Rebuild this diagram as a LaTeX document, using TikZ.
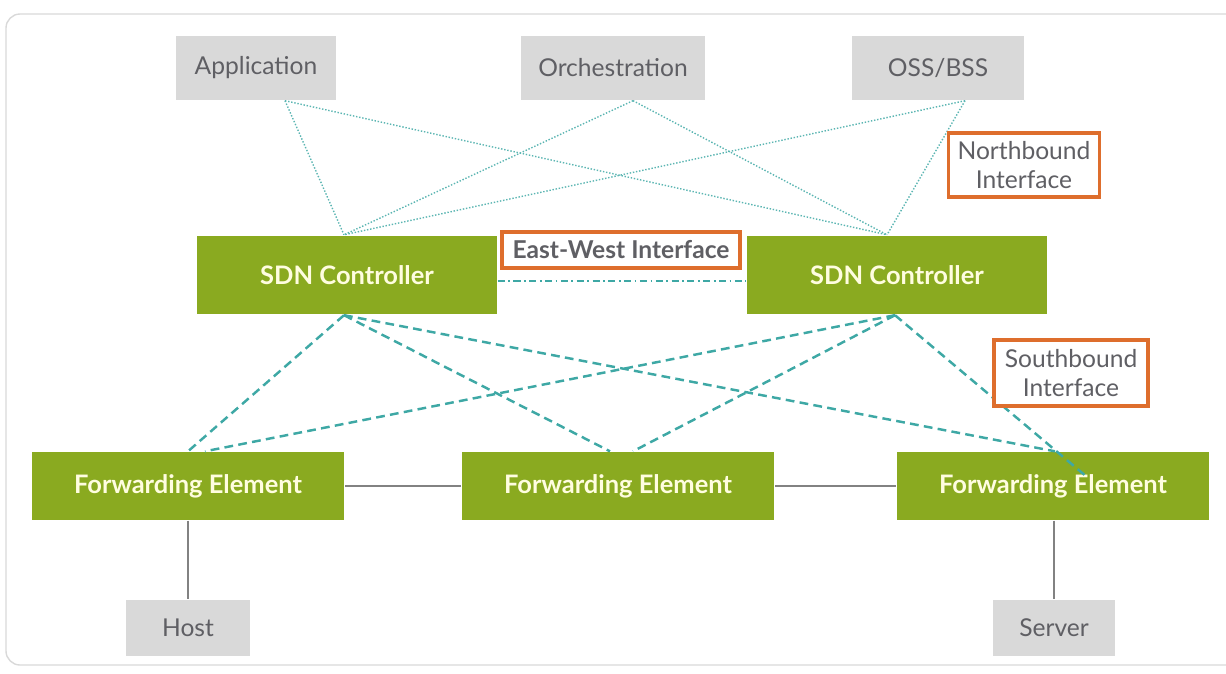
\documentclass[tikz,border=0pt]{standalone}
\usepackage{fontspec}
\setmainfont{Lato}
\usepackage[dvipsnames]{xcolor}
\definecolor{sdngreen}{RGB}{138,170,32}
\definecolor{boxgray}{RGB}{217,217,217}
\definecolor{textgray}{RGB}{95,95,100}
\definecolor{labelorange}{RGB}{222,110,45}
\definecolor{linkteal}{RGB}{62,168,165}
\definecolor{wiregray}{RGB}{130,130,130}

\begin{document}
\begin{tikzpicture}[x=0.02cm,y=-0.02cm,thick,
    app node/.style={rectangle,fill=boxgray,text=textgray,font=\fontsize{14}{16}\selectfont,inner sep=0pt},
    green node/.style={rectangle,fill=sdngreen,text=yellow!12,font=\bfseries\fontsize{14.5}{17}\selectfont,inner sep=0pt},
    iface node/.style={rectangle,draw=labelorange,line width=2pt,fill=white,text=textgray,font=\fontsize{14}{16.5}\selectfont,align=center,inner sep=0pt},
    north link/.style={linkteal!85,line width=0.8pt,densely dotted},
    south link/.style={linkteal,line width=1.4pt,dash pattern=on 5pt off 3pt},
    wire/.style={wiregray,line width=1pt}]

    \useasboundingbox (0,0) rectangle (1226,673);
    \draw[black!15,line width=0.8pt,rounded corners=8pt] (6,14) rectangle (1250,665);

    % top layer
    \node[app node,minimum width=3.2cm,minimum height=1.28cm] (app) at (256,68) {Application};
    \node[app node,minimum width=3.68cm,minimum height=1.28cm] (orch) at (613,68) {Orchestration};
    \node[app node,minimum width=3.44cm,minimum height=1.28cm] (oss) at (938,68) {OSS/BSS};

    % controllers
    \node[green node,minimum width=6cm,minimum height=1.58cm] (ctrl1) at (347,275) {SDN Controller};
    \node[green node,minimum width=6cm,minimum height=1.58cm] (ctrl2) at (897,275) {SDN Controller};

    % forwarding elements
    \node[green node,minimum width=6.26cm,minimum height=1.36cm] (fe1) at (188,486) {Forwarding Element};
    \node[green node,minimum width=6.26cm,minimum height=1.36cm] (fe2) at (618,486) {Forwarding Element};
    \node[green node,minimum width=6.26cm,minimum height=1.36cm] (fe3) at (1053,486) {Forwarding Element};

    % end hosts
    \node[app node,minimum width=2.48cm,minimum height=1.12cm] (host) at (188,628) {Host};
    \node[app node,minimum width=2.44cm,minimum height=1.12cm] (server) at (1054,628) {Server};

    % northbound links
    \draw[north link] ([xshift=0.58cm]app.south) -- ([xshift=-0.06cm]ctrl1.north);
    \draw[north link] ([xshift=0.58cm]app.south) -- ([xshift=-0.2cm]ctrl2.north);
    \draw[north link] ([xshift=0.4cm]orch.south) -- ([xshift=-0.06cm]ctrl1.north);
    \draw[north link] ([xshift=0.4cm]orch.south) -- ([xshift=-0.2cm]ctrl2.north);
    \draw[north link] ([xshift=0.54cm]oss.south) -- ([xshift=-0.06cm]ctrl1.north);
    \draw[north link] ([xshift=0.54cm]oss.south) -- ([xshift=-0.2cm]ctrl2.north);

    % east-west link
    \draw[linkteal,line width=1.2pt,dash pattern=on 4pt off 2pt on 1pt off 2pt] ([yshift=-0.12cm]ctrl1.east) -- ([yshift=-0.12cm]ctrl2.west);

    % southbound links
    \draw[south link] ([xshift=-0.06cm]ctrl1.south) -- (fe1.north);
    \draw[south link] ([xshift=-0.06cm]ctrl1.south) -- ([xshift=-0.16cm]fe2.north);
    \draw[south link] ([xshift=-0.06cm]ctrl1.south) -- ([xshift=0.04cm]fe3.north);
    \draw[south link] ([xshift=-0.04cm]ctrl2.south) -- ([xshift=0.34cm]fe1.north);
    \draw[south link] ([xshift=-0.04cm]ctrl2.south) -- ([xshift=0.3cm]fe2.north);
    \draw[south link] ([xshift=-0.04cm]ctrl2.south) -- ([xshift=0.68cm,yshift=0.18cm]fe3.center);

    % data plane wires
    \draw[wire] (fe1) -- (fe2);
    \draw[wire] (fe2) -- (fe3);
    \draw[wire] (fe1) -- (host);
    \draw[wire] ([xshift=0.02cm]fe3.south) -- (server);

    % interface labels
    \node[iface node,minimum width=3.02cm,minimum height=1.28cm] (nbi) at (1024,165) {Northbound\\Interface};
    \node[iface node,minimum width=4.76cm,minimum height=0.72cm,font=\fontsize{14}{16}\selectfont\bfseries] (ewi) at (621,250) {East-West Interface};
    \node[iface node,minimum width=3.08cm,minimum height=1.32cm] (sbi) at (1071,373) {Southbound\\Interface};

\end{tikzpicture}
\end{document}
